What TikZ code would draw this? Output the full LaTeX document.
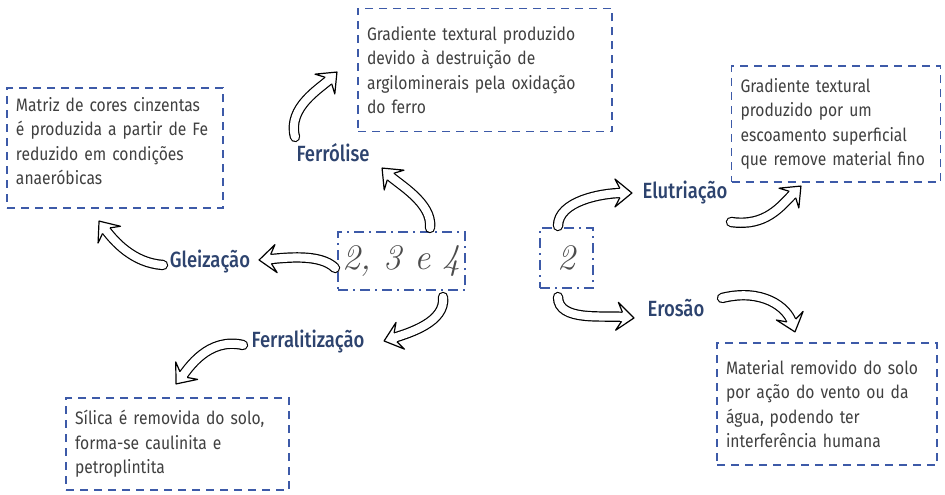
\documentclass[tikz,border=0pt]{standalone}
\usepackage{fontspec}
\newfontfamily\txtfont[FakeStretch=0.87]{Fira Sans}
\newfontfamily\lbfont[FakeStretch=0.84]{Fira Sans Medium}
\usetikzlibrary{decorations.markings}
\definecolor{boxblue}{HTML}{3D5AA8}
\definecolor{lblblue}{HTML}{2D436E}
\definecolor{txtgray}{HTML}{404040}
\tikzset{
  tbox/.style={draw=boxblue, line width=1.6pt, dash pattern=on 8pt off 6pt,
    align=left, inner xsep=9pt, inner ysep=0pt, text=txtgray,
    font=\txtfont\fontsize{18}{24.5}\selectfont},
  nbox/.style={draw=boxblue, line width=2pt, dash pattern=on 10pt off 5pt on 2pt off 5pt,
    inner sep=0pt, text=black!70, font=\fontsize{36}{40}\selectfont\itshape},
  lbl/.style={text=lblblue, inner sep=1pt, font=\lbfont\fontsize{22}{24}\selectfont},
  harrow/.style={
    postaction={draw, black, line width=1.2pt, double=white, double distance=8pt,
      line cap=round, shorten >=10pt},
    postaction={decorate, decoration={markings, mark=at position 0.999 with {
      \fill[white] (0,0) -- (-17pt,14pt) -- (-12pt,4.6pt) -- (-12pt,-4.6pt) -- (-17pt,-14pt) -- cycle;
      \draw[black, line width=1.2pt, line join=round]
        (-12pt,4.6pt) -- (-17pt,14pt) -- (0,0) -- (-17pt,-14pt) -- (-12pt,-4.6pt);}}}}
}
\begin{document}
\begin{tikzpicture}[x=1pt,y=-1pt]
\fill[white] (0,0) rectangle (945,495);
\useasboundingbox (0,0) rectangle (945,495);

% text boxes
\node[tbox, text width=198pt, minimum height=120pt] (b1) at (115,148)
  {Matriz de cores cinzentas\\é produzida a partir de Fe\\reduzido em condições\\anaeróbicas\\[-10pt]\mbox{}};
\node[tbox, text width=236pt, minimum height=123pt] (b2) at (485,70)
  {Gradiente textural produzido\\devido à destruição de\\argilominerais pela oxidação\\do ferro};
\node[tbox, text width=191pt, minimum height=116pt] (b3) at (836,124)
  {Gradiente textural\\produzido por um\\escoamento superficial\\que remove material fino};
\node[tbox, text width=205pt, minimum height=92pt] (b5) at (177.5,444)
  {Sílica é removida do solo,\\forma-se caulinita e\\petroplintita};
\node[tbox, text width=202pt, minimum height=122pt] (b6) at (827,404)
  {Material removido do solo\\por ação do vento ou da\\água, podendo ter\\interferência humana};

% number boxes
\node[nbox, minimum width=127pt, minimum height=58pt] (c234) at (401.5,261) {2, 3 e 4};
\node[nbox, minimum width=53pt, minimum height=60pt] (c2) at (566.5,258) {2};

% labels
\node[lbl] (ferrolise) at (333,153) {Ferrólise};
\node[lbl] (gleizacao) at (210,262) {Gleização};
\node[lbl] (ferral) at (308,342) {Ferralitização};
\node[lbl] (elut) at (685,193) {Elutriação};
\node[lbl] (erosao) at (676,308) {Erosão};

% arrow end points
\coordinate (a1s) at (430,228); \coordinate (a1e) at (382,168);
\coordinate (a2s) at (295,137); \coordinate (a2e) at (337,72);
\coordinate (a3s) at (335,268); \coordinate (a3e) at (259,260);
\coordinate (a4s) at (163,265); \coordinate (a4e) at (99,221);
\coordinate (a5s) at (443,297); \coordinate (a5e) at (384,341);
\coordinate (a6s) at (243,345); \coordinate (a6e) at (176,384);
\coordinate (a7s) at (558,226); \coordinate (a7e) at (632,193);
\coordinate (a8s) at (731,222); \coordinate (a8e) at (801,186);
\coordinate (a9s) at (558,297); \coordinate (a9e) at (634,318);
\coordinate (a10s) at (722,298); \coordinate (a10e) at (795,332);

% arrows
\path[harrow] (a1s) .. controls +(3,-25) and +(16,16) .. (a1e);
\path[harrow] (a2s) .. controls +(-8,-30) and +(-16,16) .. (a2e);
\path[harrow] (a3s) .. controls +(-15,-15) and +(25,-2) .. (a3e);
\path[harrow] (a4s) .. controls +(-30,-2) and +(15,20) .. (a4e);
\path[harrow] (a5s) .. controls +(3,25) and +(25,-8) .. (a5e);
\path[harrow] (a6s) .. controls +(-35,-8) and +(12,-15) .. (a6e);
\path[harrow] (a7s) .. controls +(0,-25) and +(-30,0) .. (a7e);
\path[harrow] (a8s) .. controls +(35,5) and +(-20,20) .. (a8e);
\path[harrow] (a9s) .. controls +(0,25) and +(-30,-3) .. (a9e);
\path[harrow] (a10s) .. controls +(40,-10) and +(-8,-25) .. (a10e);
\end{tikzpicture}
\end{document}
